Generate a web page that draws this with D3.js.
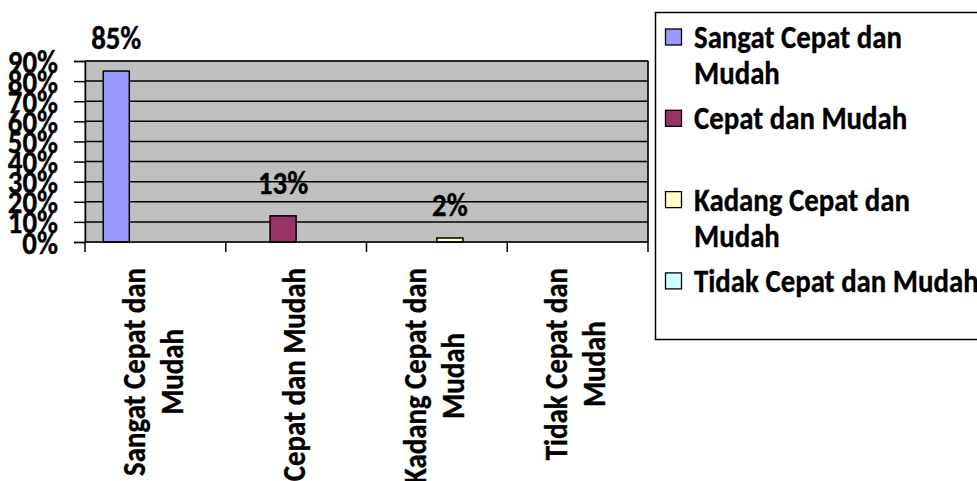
<!DOCTYPE html>
<html>
<head>
<meta charset="utf-8">
<script src="https://cdn.jsdelivr.net/npm/d3@7"></script>
<style>
  html, body { margin: 0; padding: 0; background: #fff; overflow: hidden; }
  svg { display: block; }
  text { font-family: Carlito, Lato, "Open Sans", sans-serif; font-weight: bold; fill: #000; stroke: #000; stroke-width: 0.35px; }
</style>
</head>
<body>
<svg id="chart" width="977" height="481"></svg>
<script>
// ---------- data ----------
const categories = ["Sangat Cepat dan Mudah", "Cepat dan Mudah", "Kadang Cepat dan Mudah", "Tidak Cepat dan Mudah"];
const categoryLabelLines = [["Sangat Cepat dan", "Mudah"], ["Cepat dan Mudah"], ["Kadang Cepat dan", "Mudah"], ["Tidak Cepat dan", "Mudah"]];
const seriesNames = ["Sangat Cepat dan Mudah", "Cepat dan Mudah", "Kadang Cepat dan Mudah", "Tidak Cepat dan Mudah"];
const legendLabelLines = [["Sangat Cepat dan", "Mudah"], ["Cepat dan Mudah", ""], ["Kadang Cepat dan", "Mudah"], ["Tidak Cepat dan Mudah"]];
const seriesValues = [0.85, 0.13, 0.02, 0];   // each series has a value only in its own category
const seriesColors = ["#9999FF", "#993366", "#FFFFCC", "#CCFFFF"];
const yTickValues = [0, 0.1, 0.2, 0.3, 0.4, 0.5, 0.6, 0.7, 0.8, 0.9];
const yMax = 0.9;

// ---------- layout ----------
const svg = d3.select("#chart");
const plot = { left: 85, right: 648, top: 61, bottom: 242 };

// calibrate font size so that label widths match the reference
const probe = svg.append("text").attr("font-size", 100).text("Sangat Cepat dan");
const probeW = probe.node().getComputedTextLength();
probe.remove();
const fs = 100 * 208 / probeW;
const K = 1.13; // taller, narrower glyphs (Calibri-like proportions)

function styleText(sel) {
  sel.attr("font-size", fs * K).each(function () {
    const w = this.getComputedTextLength();
    this.__w = w / K;
    if (w > 0) d3.select(this).attr("textLength", w / K).attr("lengthAdjust", "spacingAndGlyphs");
  });
  return sel;
}

const x0 = d3.scaleBand().domain(categories).range([plot.left, plot.right]).padding(0);
const x1 = d3.scaleBand().domain(seriesNames).range([0, x0.bandwidth()]).paddingInner(0).paddingOuter(0.7);
const y = d3.scaleLinear().domain([0, yMax]).range([plot.bottom, plot.top]);
const color = d3.scaleOrdinal().domain(seriesNames).range(seriesColors);

// plot area background
svg.append("rect")
  .attr("x", plot.left).attr("y", plot.top)
  .attr("width", plot.right - plot.left).attr("height", plot.bottom - plot.top)
  .attr("fill", "#C0C0C0").attr("stroke", "#808080").attr("stroke-width", 1.5);

// gridlines
svg.append("g")
  .selectAll("line").data(yTickValues.filter(d => d > 0)).join("line")
  .attr("x1", plot.left).attr("x2", plot.right)
  .attr("y1", d => y(d)).attr("y2", d => y(d))
  .attr("stroke", "#000").attr("stroke-width", 1.5);

// right edge of plot
svg.append("line")
  .attr("x1", plot.right).attr("x2", plot.right)
  .attr("y1", plot.top).attr("y2", plot.bottom)
  .attr("stroke", "#000").attr("stroke-width", 1.5);

// bars
const barData = seriesNames.map((s, i) => ({ series: s, category: categories[i], value: seriesValues[i] }))
  .filter(d => d.value > 0);

svg.append("g").selectAll("rect").data(barData).join("rect")
  .attr("x", d => x0(d.category) + x1(d.series))
  .attr("y", d => y(d.value))
  .attr("width", x1.bandwidth())
  .attr("height", d => y(0) - y(d.value))
  .attr("fill", d => color(d.series))
  .attr("stroke", "#000").attr("stroke-width", 1.5);

// data labels
svg.append("g").selectAll("text").data(barData).join("text")
  .attr("x", d => x0(d.category) + x1(d.series) + x1.bandwidth() / 2)
  .attr("y", d => y(d.value) - 22)
  .attr("text-anchor", "middle")
  .text(d => d3.format(".0%")(d.value))
  .call(styleText);

// y axis
const yAxis = d3.axisLeft(y).tickValues(yTickValues).tickFormat(d3.format(".0%"))
  .tickSizeOuter(0).tickSize(11).tickPadding(16);
const yg = svg.append("g").attr("transform", `translate(${plot.left},0)`).call(yAxis);
yg.attr("font-family", null).attr("font-size", null);
yg.select(".domain").attr("stroke", "#000").attr("stroke-width", 1.5);
yg.selectAll(".tick line").attr("stroke", "#000").attr("stroke-width", 1.5);
yg.selectAll(".tick text").attr("dy", "0.34em").attr("fill", "#000").call(styleText);

// x axis line and tick marks at category boundaries
svg.append("line")
  .attr("x1", plot.left).attr("x2", plot.right)
  .attr("y1", plot.bottom).attr("y2", plot.bottom)
  .attr("stroke", "#000").attr("stroke-width", 1.5);
const boundaries = categories.map(c => x0(c)).concat([x0(categories[categories.length - 1]) + x0.bandwidth()]);
svg.append("g").selectAll("line").data(boundaries).join("line")
  .attr("x1", d => d).attr("x2", d => d)
  .attr("y1", plot.bottom).attr("y2", plot.bottom + 10)
  .attr("stroke", "#000").attr("stroke-width", 1.5);

// rotated category labels
const catLH = 38;
const labelTop = 268;
categories.forEach((c, i) => {
  const lines = categoryLabelLines[i];
  const g = svg.append("g")
    .attr("transform", `translate(${x0(c) + x0.bandwidth() / 2},${labelTop}) rotate(-90)`);
  const texts = g.selectAll("text").data(lines).join("text")
    .attr("text-anchor", "middle")
    .attr("y", (d, j) => (j - (lines.length - 1) / 2) * catLH + 8.5)
    .text(d => d)
    .call(styleText);
  const maxW = d3.max(texts.nodes(), n => n.__w);
  texts.attr("x", -maxW / 2);
});

// legend
const legend = svg.append("g");
legend.append("rect")
  .attr("x", 655.5).attr("y", 12.5).attr("width", 340).attr("height", 327)
  .attr("fill", "#fff").attr("stroke", "#000").attr("stroke-width", 1.5);
const entryPitch = 81.3, lineLH = 36, firstBase = 48;
seriesNames.forEach((s, i) => {
  const base = firstBase + i * entryPitch;
  legend.append("rect")
    .attr("x", 665.5).attr("y", base - 19).attr("width", 16).attr("height", 16)
    .attr("fill", color(s)).attr("stroke", "#000").attr("stroke-width", 1.3);
  legend.selectAll(null).data(legendLabelLines[i].filter(t => t.length)).join("text")
    .attr("x", 694).attr("y", (d, j) => base + j * lineLH)
    .text(d => d)
    .call(styleText);
});
</script>
</body>
</html>
